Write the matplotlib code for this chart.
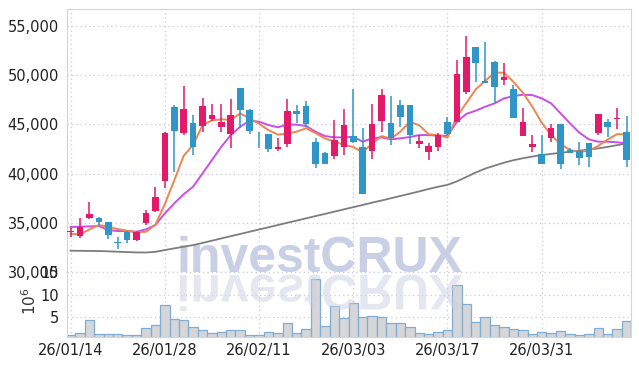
import matplotlib
matplotlib.use("Agg")
import matplotlib.pyplot as plt
import numpy as np
from matplotlib.font_manager import FontProperties
from matplotlib.patches import PathPatch
from matplotlib.textpath import TextPath
from matplotlib.transforms import Affine2D
from matplotlib.ticker import FuncFormatter

# daily OHLC, one entry per trading day (2026-01-14 .. 2026-04-13)
opens = [34050, 33685, 35450, 35510, 35040, 33000, 34090, 33300, 35000, 36220,
         39270, 46780, 44100, 45110, 44870, 45560, 44700, 43980, 48650, 46450,
         43330, 43980, 42500, 43010, 46350, 46860, 43200, 42080, 41810, 42650,
         43810, 42650, 42250, 45290, 45090, 46950, 46950, 42960, 42210, 42740,
         45260, 45260, 48300, 52810, 49390, 51320, 49490, 48540, 43830, 42650,
         41980, 43570, 45020, 42380, 42310, 43060, 44080, 45220, 45550, 44210]
highs = [34435, 35450, 37070, 35610, 35110, 33520, 34190, 34190, 36290, 38600,
         44240, 46990, 48840, 45940, 47630, 47050, 47050, 47560, 48710, 46520,
         44240, 43980, 43570, 47530, 46950, 47360, 43570, 42180, 45390, 46520,
         48570, 44580, 47020, 48540, 47860, 47460, 46950, 43900, 43130, 44080,
         45700, 51520, 53950, 52810, 53310, 51390, 51250, 48980, 46680, 43900,
         43900, 45020, 45020, 42550, 43230, 43060, 46040, 45500, 46680, 45800]
lows = [33580, 33420, 35350, 34770, 33320, 32300, 32980, 33110, 34770, 36120,
        38500, 40190, 43900, 41870, 44240, 45290, 44240, 42550, 44580, 43980,
        42550, 42150, 42280, 42740, 45090, 44750, 40520, 41000, 41470, 41870,
        43060, 37970, 41470, 44180, 42890, 44750, 42990, 42550, 41370, 42310,
        43900, 45260, 48060, 49320, 49220, 47120, 48980, 45670, 43830, 42210,
        40940, 43230, 40450, 42110, 40860, 40620, 43900, 43730, 44480, 40620]
closes = [34130, 34600, 35890, 35075, 33790, 32950, 33250, 34030, 35950, 37580,
          44110, 44340, 46550, 42740, 46860, 45940, 45260, 45940, 46450, 44340,
          43270, 42520, 42740, 46350, 46010, 45020, 41000, 41000, 43400, 44920,
          43230, 37970, 44990, 47940, 43570, 45770, 43900, 43300, 42790, 43900,
          44010, 50070, 51820, 51250, 49220, 48810, 49760, 45670, 45190, 42990,
          40940, 44580, 40940, 42110, 41610, 41710, 46040, 44750, 45650, 41370]

# moving averages as drawn on the chart
ma5 = [33860, 33830, 34330, 34770, 34600, 34360, 34190, 34030, 34090, 34800,
       36900, 39300, 41800, 42900, 44900, 45400, 45500, 45450, 46100, 45600,
       45050, 44400, 43950, 44050, 44250, 44600, 44100, 43550, 43250, 42900,
       42700, 42150, 43050, 43800, 43550, 44250, 45250, 44900, 43980, 43900,
       43650, 45800, 47150, 48550, 49400, 50250, 50230, 49300, 48200, 46800,
       45150, 43900, 43000, 42380, 42200, 42300, 42800, 43450, 44000, 43980]
ma10 = [34570, 34600, 34630, 34670, 34260, 34160, 34160, 34090, 34330, 34770,
        35950, 36970, 37900, 38660, 40020, 41370, 42720, 43900, 44750, 45360,
        45260, 44920, 44690, 44990, 44950, 44820, 44240, 43800, 43670, 43670,
        43730, 43230, 43570, 43670, 43470, 43570, 43700, 43900, 43900, 43840,
        43840, 45250, 46050, 46380, 46780, 47120, 47630, 47860, 48000, 47960,
        47630, 47120, 46110, 45090, 44140, 43470, 43230, 43230, 43170, 43060]
ma60 = [32160, 32150, 32140, 32130, 32100, 32060, 32020, 31990, 31980, 32050,
        32230, 32400, 32570, 32730, 32950, 33180, 33410, 33640, 33860, 34090,
        34320, 34540, 34770, 35000, 35220, 35450, 35680, 35900, 36130, 36360,
        36580, 36810, 37040, 37260, 37490, 37720, 37950, 38180, 38430, 38650,
        38850, 39200, 39650, 40100, 40500, 40800, 41100, 41350, 41550, 41720,
        41870, 41990, 42100, 42210, 42320, 42430, 42550, 42700, 42880, 43060]

# volume in millions of shares
volume = [1.08, 1.53, 4.4, 1.3, 1.3, 1.3, 1.08, 1.08, 2.6, 3.3,
          7.75, 4.64, 4.4, 2.86, 2.2, 1.53, 1.75, 2.2, 2.2, 1.08,
          0.95, 1.75, 1.53, 3.75, 1.53, 2.42, 13.5, 3.08, 7.53, 4.86,
          8.2, 5.1, 5.3, 5.1, 3.75, 3.75, 2.86, 1.53, 1.3, 1.75,
          2.2, 12.2, 7.98, 3.97, 5.1, 3.3, 2.86, 2.42, 2.2, 1.3,
          1.75, 1.53, 1.97, 1.3, 1.08, 1.3, 2.6, 1.3, 2.42, 4.2]

tick_pos = [0, 10, 20, 30, 40, 50]
tick_labels = ["26/01/14", "26/01/28", "26/02/11", "26/03/03", "26/03/17", "26/03/31"]

UP = "#e3196a"
DOWN = "#2f96c7"
GRID = "#c9c9da"
FRAME = "#d4d4dc"
LABEL_FONT = ["Liberation Sans Narrow", "DejaVu Sans"]

plt.rcParams["mathtext.fontset"] = "custom"
plt.rcParams["mathtext.rm"] = "Liberation Sans Narrow"

fig = plt.figure(figsize=(6.39, 3.66), dpi=100)
ax = fig.add_axes([0.1049, 0.2568, 0.8822, 0.7186])
axv = fig.add_axes([0.1049, 0.0792, 0.8822, 0.1776], sharex=ax)

x = np.arange(len(opens))
o = np.array(opens)
c = np.array(closes)
up = c >= o
colors = np.where(up, UP, DOWN)

# wicks + bodies
ax.vlines(x, lows, highs, colors=colors, linewidth=1.1, zorder=3)
body_lo = np.minimum(o, c)
body_h = np.maximum(np.abs(c - o), 60)
ax.bar(x, body_h, bottom=body_lo, width=0.7, color=colors, zorder=4)

ax.plot(x, ma60, color="#7d7d7d", lw=1.3, zorder=2)
ax.plot(x, ma10, color="#c94fe6", lw=1.4, zorder=2)
ax.plot(x, ma5, color="#ee8550", lw=1.4, zorder=2)

# watermark
wm_x = 0.194
ax.text(wm_x, 0.0, "investCRUX", transform=ax.transAxes, fontsize=36,
        fontweight="bold", family="Liberation Sans", color="#c9d0e6",
        ha="left", va="baseline", zorder=0.5)

ax.set_ylim(30000, 56700)
ax.set_xlim(-0.38, 59.45)
ax.set_yticks([30000, 35000, 40000, 45000, 50000, 55000])
ax.yaxis.set_major_formatter(FuncFormatter(lambda v, p: f"{int(v):,}"))
ax.grid(True, linestyle=(0, (1, 2.5)), color=GRID, lw=0.9)
ax.set_axisbelow(True)
ax.tick_params(axis="x", which="both", length=0, labelbottom=False)
ax.tick_params(axis="y", length=0, pad=6, labelsize=10.5, labelcolor="#222222")
for lab in ax.get_yticklabels():
    lab.set_family(LABEL_FONT)
for side in ["top", "right", "left"]:
    ax.spines[side].set_color(FRAME)
ax.spines["bottom"].set_color("#a8a8b0")
ax.spines["bottom"].set_linestyle((0, (1, 1.5)))

# volume panel
axv.bar(x, volume, width=1.0, color="#d6d6d8", edgecolor="#7eaed3", linewidth=0.9, zorder=2)
axv.set_ylim(0.55, 15)
axv.set_yticks([5, 10, 15])
axv.set_xticks(tick_pos)
axv.set_xticklabels(tick_labels)
axv.grid(True, linestyle=(0, (1, 2.5)), color=GRID, lw=0.9)
axv.set_axisbelow(True)
axv.tick_params(axis="both", length=0, labelsize=10.5, labelcolor="#222222")
axv.tick_params(axis="y", pad=6)
axv.tick_params(axis="x", pad=4)
for lab in axv.get_xticklabels() + axv.get_yticklabels():
    lab.set_family(LABEL_FONT)
axv.set_ylabel(r"$10^6$", fontsize=11, color="#333333")
axv.yaxis.set_label_coords(-0.05, 0.55)
axv.spines["top"].set_visible(False)
for side in ["right", "left", "bottom"]:
    axv.spines[side].set_color(FRAME)

# mirrored watermark reflection below the price panel
tp = TextPath((0, 0), "investCRUX", size=36,
              prop=FontProperties(family="Liberation Sans", weight="bold"))
x0 = (67 + wm_x * 563.7) / 100.0
y0 = (366 - 275) / 100.0
tr = Affine2D().scale(1 / 72.0, -1 / 72.0).translate(x0, y0) + fig.dpi_scale_trans
fig.add_artist(PathPatch(tp, transform=tr, facecolor="#cdd0e2", edgecolor="none",
                         alpha=0.5, zorder=5))

fig.savefig("out.png", dpi=100)
